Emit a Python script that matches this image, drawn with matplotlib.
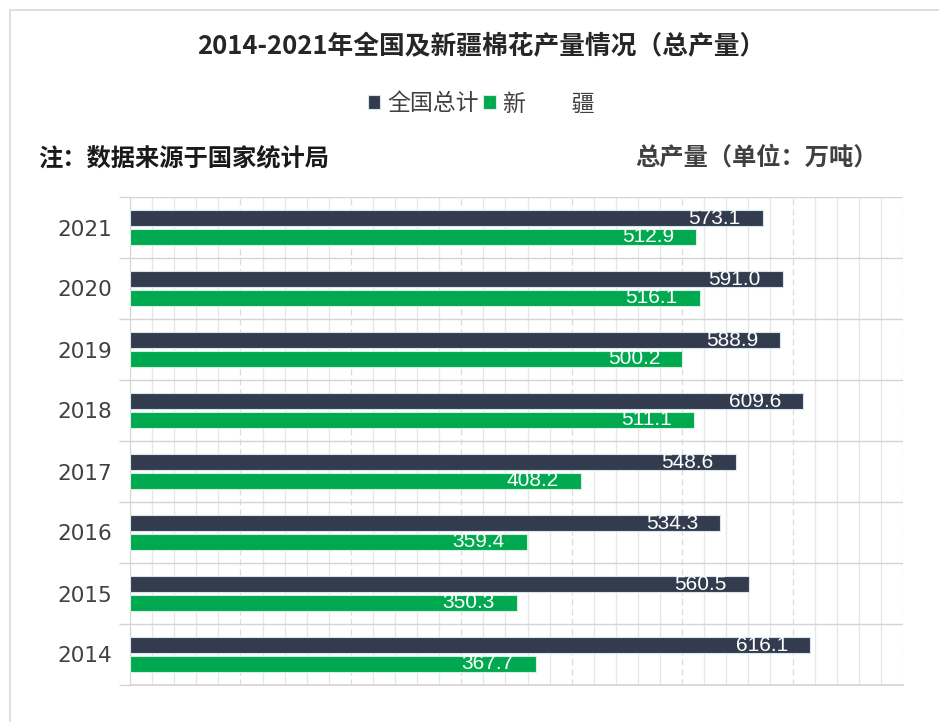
import matplotlib
matplotlib.use("Agg")
import matplotlib.pyplot as plt
from matplotlib.patches import Rectangle
import numpy as np

years = ["2014", "2015", "2016", "2017", "2018", "2019", "2020", "2021"]
national = [616.1, 560.5, 534.3, 548.6, 609.6, 588.9, 591.0, 573.1]
xinjiang = [367.7, 350.3, 359.4, 408.2, 511.1, 500.2, 516.1, 512.9]
series_names = ["全国总计", "新　　疆"]
title = "2014-2021年全国及新疆棉花产量情况（总产量）"
note_left = "注：数据来源于国家统计局"
note_right = "总产量（单位：万吨）"

plt.rcParams['font.family'] = ['Noto Sans CJK SC', 'DejaVu Sans']

c_dark = "#333c4e"
c_green = "#00a94f"

fig = plt.figure(figsize=(9.39, 7.22), dpi=100)
fig.patch.set_facecolor("white")
# outer frame
fig.add_artist(Rectangle((10/939, -0.01), 1.2, 1 - 10/722 + 0.01, transform=fig.transFigure,
                         fill=False, edgecolor="#d9d9d9", linewidth=1.2))

ax = fig.add_axes([130/939, 1 - 685/722, (903 - 130)/939, (685 - 197)/722])
y = np.arange(len(years))
h = 0.26
off = 0.15
b1 = ax.barh(y + off, national, height=h, color=c_dark, edgecolor="#d6e6ea", linewidth=0.8, zorder=3, label=series_names[0])
b2 = ax.barh(y - off, xinjiang, height=h, color=c_green, edgecolor="#d6f0e0", linewidth=0.8, zorder=3, label=series_names[1])

for bars, vals in ((b1, national), (b2, xinjiang)):
    for rect, v in zip(bars, vals):
        ax.text(v - 20, rect.get_y() + rect.get_height() / 2, f"{v:.1f}", ha="right", va="center",
                color="white", fontsize=15, family=["Liberation Sans"], zorder=4)

ax.set_xlim(0, 700)
ax.set_ylim(-0.5, len(years) - 0.5)
ax.set_xticks(np.arange(0, 701, 100))
ax.set_xticks(np.arange(0, 701, 20), minor=True)
ax.xaxis.grid(True, which="minor", color="#e6e6e6", linewidth=0.9, zorder=0)
ax.xaxis.grid(True, which="major", color="#dcdcdc", linewidth=0.9, linestyle=(0, (5, 3)), zorder=0)
ax.set_yticks(y)
ax.set_yticks(np.arange(-0.5, len(years), 1), minor=True)
ax.yaxis.grid(True, which="minor", color="#d4d4d4", linewidth=1.0, zorder=1)
ax.set_yticklabels(years, fontsize=15.5, color="#404040", family=["DejaVu Sans"])
ax.tick_params(axis="y", which="major", length=0, pad=13)
ax.tick_params(axis="y", which="minor", length=8, color="#d4d4d4", width=1.0)
ax.tick_params(axis="x", which="both", length=0, labelbottom=False)
for s in ("top", "right"):
    ax.spines[s].set_visible(False)
ax.spines["left"].set_color("#d4d4d4")
ax.spines["bottom"].set_color("#d4d4d4")
ax.spines["bottom"].set_linewidth(1.2)

fig.text(481/939, 1 - 47/722, title, ha="center", va="center", fontsize=18.5, fontweight="bold", color="#262626")
fig.legend(handles=[b1, b2], labels=series_names, loc="center", bbox_to_anchor=(481/939, 1 - 104/722),
           ncol=2, frameon=False, fontsize=16.5, handlelength=0.55, handleheight=0.55, handletextpad=0.3,
           columnspacing=0.2, labelcolor="#404040")
fig.text(38/939, 1 - 158/722, note_left, ha="left", va="center", fontsize=17.5, fontweight="bold", color="#1a1a1a")
fig.text(878/939, 1 - 158/722, note_right, ha="right", va="center", fontsize=17.5, fontweight="bold", color="#404040")

fig.savefig("out.png", dpi=100, facecolor="white")
